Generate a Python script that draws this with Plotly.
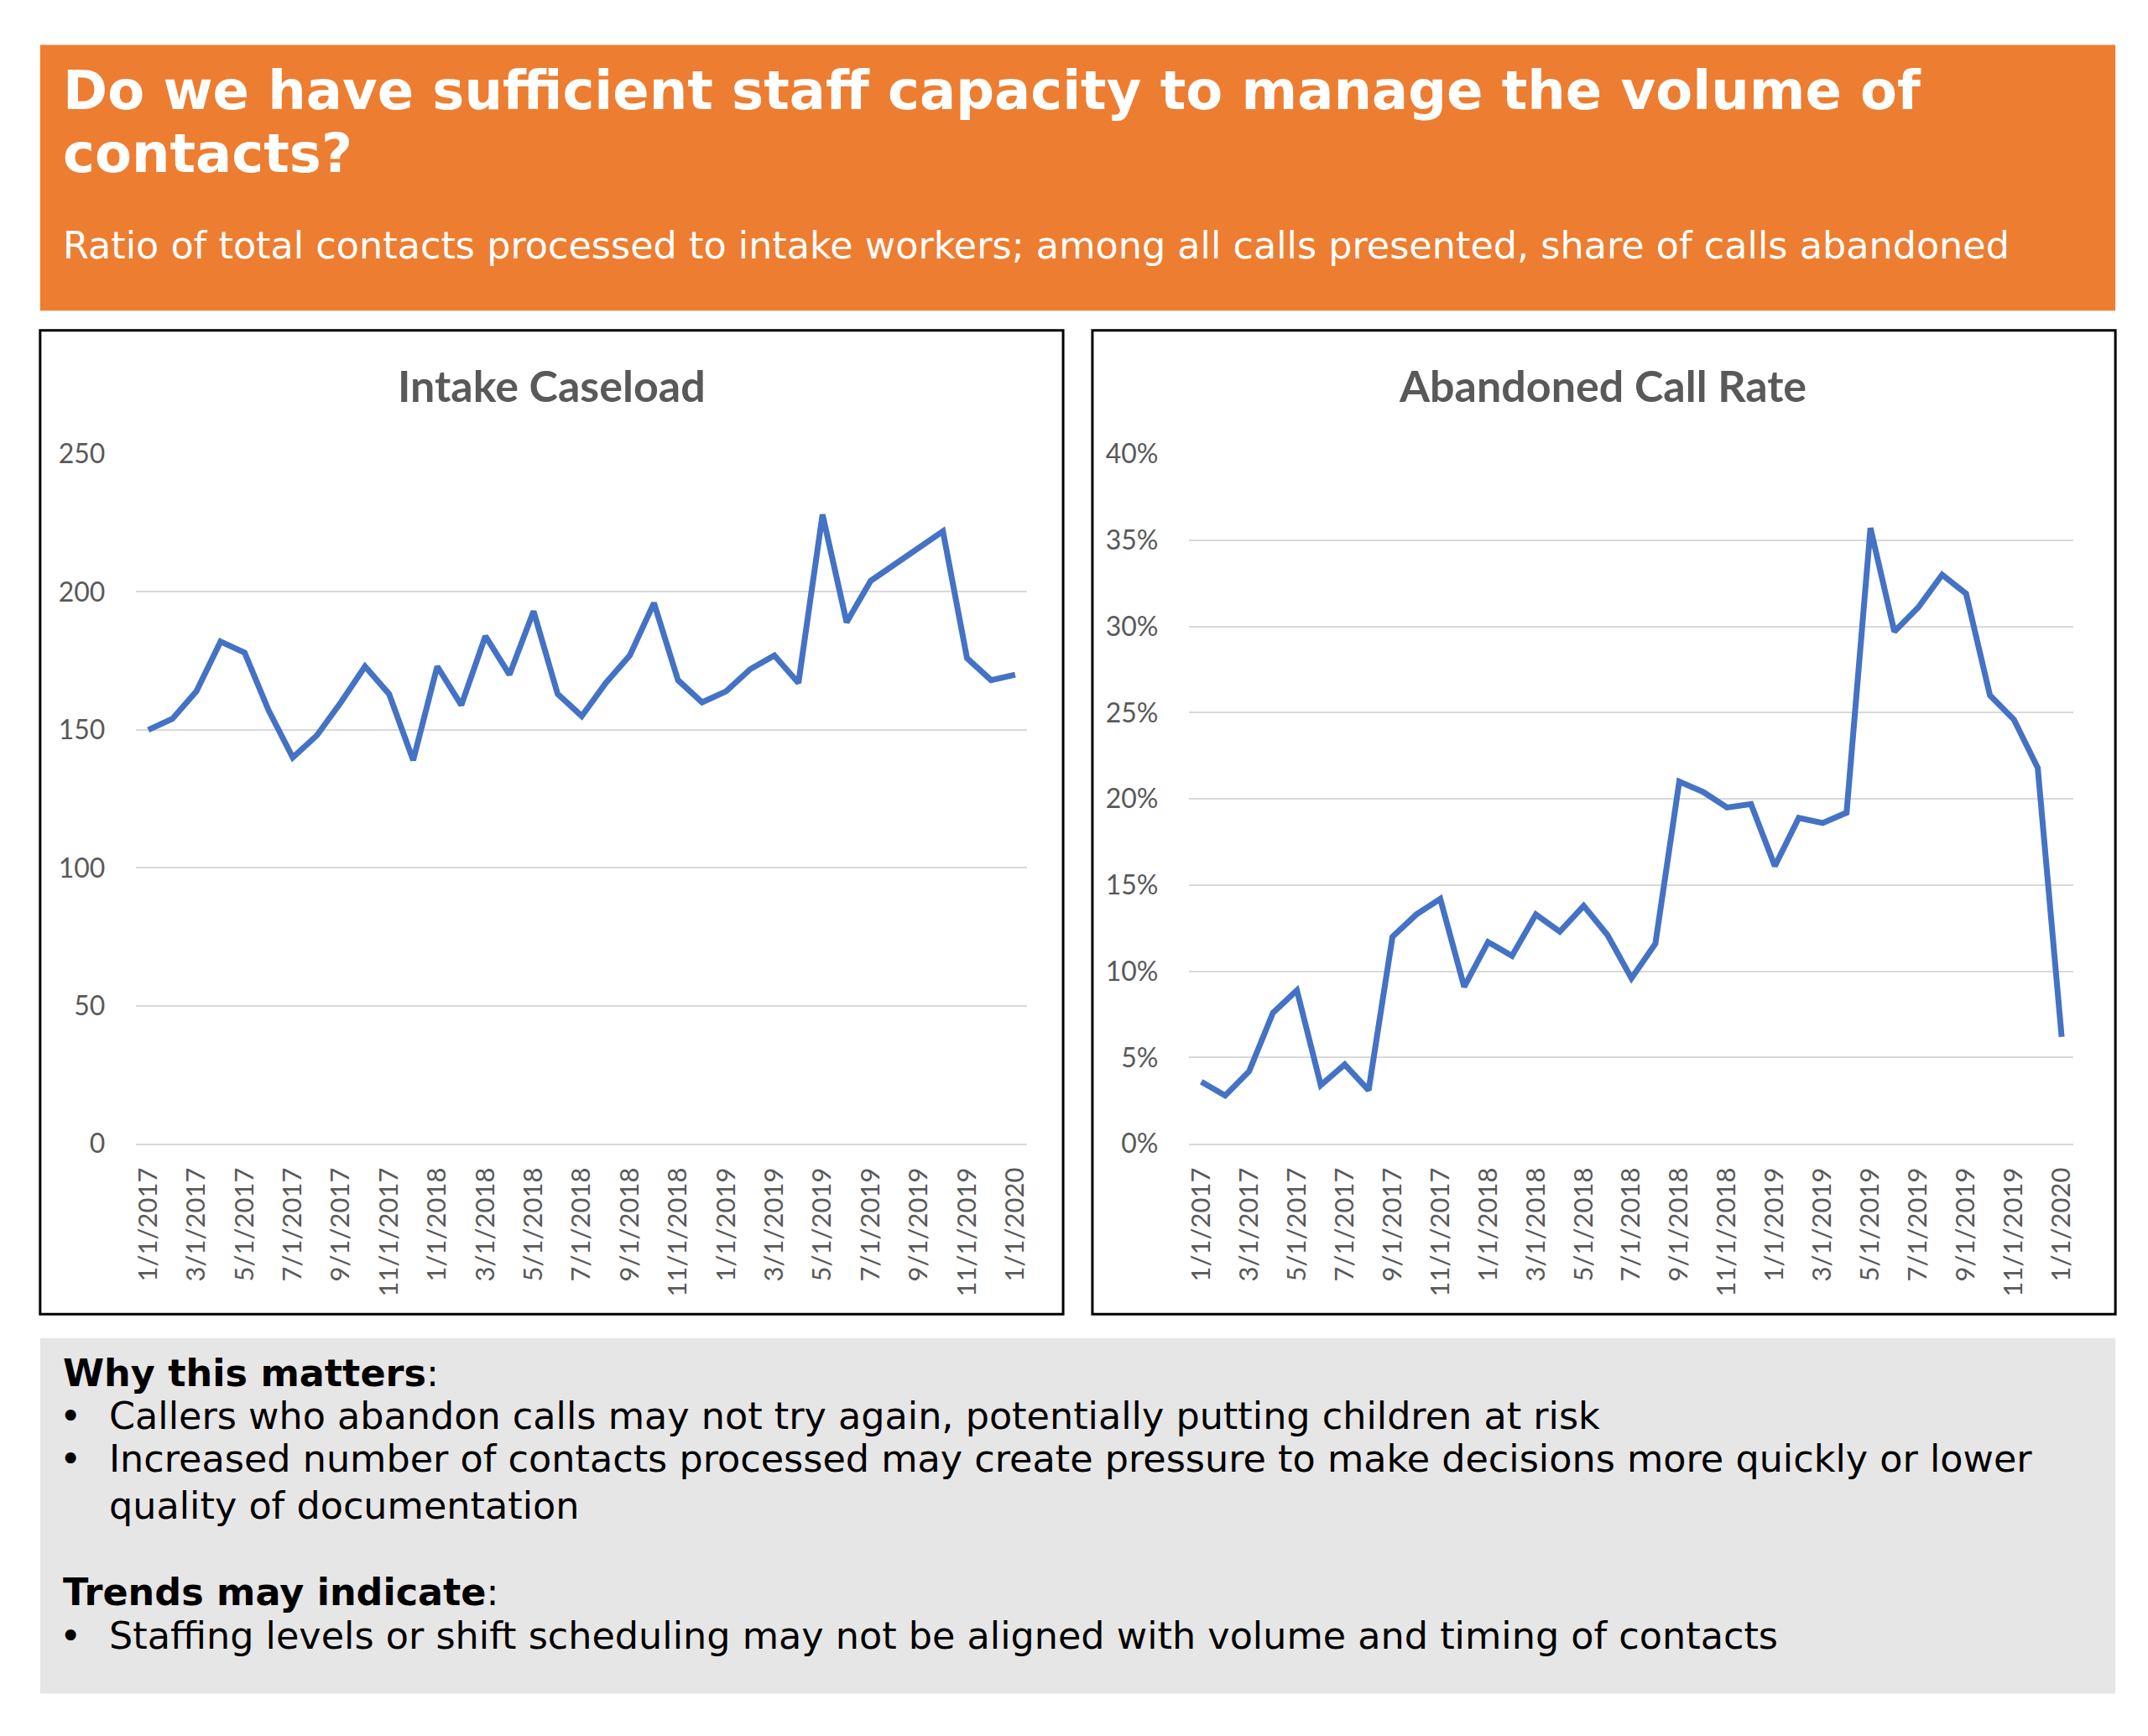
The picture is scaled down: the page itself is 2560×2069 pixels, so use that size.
import plotly.graph_objects as go

# monthly data, 1/1/2017 .. 1/1/2020
months = [f"{m}/1/{y}" for y in (2017, 2018, 2019) for m in range(1, 13)] + ["1/1/2020"]

caseload = [150, 154, 164, 182, 178, 157, 140, 148, 160, 173, 163, 139,
            173, 159, 184, 170, 193, 163, 155, 167, 177, 196, 168, 160,
            164, 172, 177, 167, 228, 189, 204, 210, 216, 222, 176, 168,
            170]

abandoned = [0.036, 0.028, 0.042, 0.076, 0.089, 0.034, 0.046, 0.031, 0.120, 0.133, 0.142, 0.091,
             0.117, 0.109, 0.133, 0.123, 0.138, 0.121, 0.096, 0.116, 0.210, 0.204, 0.195, 0.197,
             0.161, 0.189, 0.186, 0.192, 0.357, 0.297, 0.311, 0.330, 0.319, 0.260, 0.246, 0.218,
             0.062]

tick_labels = months[::2]

title_line1 = "Do we have sufficient staff capacity to manage the volume of"
title_line2 = "contacts?"
subtitle = ("Ratio of total contacts processed to intake workers; among all calls "
            "presented, share of calls abandoned")

W, H = 2560, 2069
BLUE = "#4472C4"
GREY_TXT = "#595959"
GRID = "#D9D9D9"
ORANGE = "#ED7D31"
PANEL = "#E7E6E6"
BODY_FONT = "DejaVu Sans"
CHART_FONT = "Lato"


def px(x):
    return x / W


def py(y):
    return 1 - y / H


fig = go.Figure()

fig.add_trace(go.Scatter(x=months, y=caseload, mode="lines",
                         line=dict(color=BLUE, width=7),
                         xaxis="x", yaxis="y", showlegend=False))
fig.add_trace(go.Scatter(x=months, y=abandoned, mode="lines",
                         line=dict(color=BLUE, width=7),
                         xaxis="x2", yaxis="y2", showlegend=False))

xaxis_style = dict(type="category", range=[-0.5, len(months) - 0.5],
                   tickmode="array", tickvals=tick_labels, ticktext=tick_labels,
                   tickangle=-90, showgrid=False, showline=True,
                   linecolor=GRID, linewidth=2, ticks="",
                   ticklabelstandoff=14,
                   tickfont=dict(family=CHART_FONT, size=31, color=GREY_TXT))
yaxis_style = dict(showgrid=True, gridcolor=GRID, gridwidth=2, zeroline=False,
                   showline=False, ticks="", ticklabelstandoff=36,
                   tickfont=dict(family=CHART_FONT, size=32, color=GREY_TXT))

fig.update_layout(
    width=W, height=H,
    margin=dict(l=0, r=0, t=0, b=0),
    paper_bgcolor="white", plot_bgcolor="rgba(0,0,0,0)",
    xaxis=dict(domain=[px(156), px(1222)], anchor="y", **xaxis_style),
    yaxis=dict(domain=[py(1368), py(530)], anchor="x", range=[0, 250], dtick=50,
               **yaxis_style),
    xaxis2=dict(domain=[px(1416), px(2474)], anchor="y2", **xaxis_style),
    yaxis2=dict(domain=[py(1368), py(530)], anchor="x2", range=[0, 0.40], dtick=0.05,
                tickformat=".0%", **yaxis_style),
)

# background blocks
fig.add_shape(type="rect", xref="paper", yref="paper", layer="below",
              x0=px(41), x1=px(2524), y0=py(356), y1=py(33),
              fillcolor=ORANGE, line_width=0)
for x0, x1 in [(41, 1265), (1300, 2524)]:
    fig.add_shape(type="rect", xref="paper", yref="paper", layer="below",
                  x0=px(x0), x1=px(x1), y0=py(1575), y1=py(380),
                  fillcolor="white", line=dict(color="black", width=3))
fig.add_shape(type="rect", xref="paper", yref="paper", layer="below",
              x0=px(41), x1=px(2524), y0=py(2036), y1=py(1604),
              fillcolor=PANEL, line_width=0)


def note(text, x, y, size, color="black", family=BODY_FONT, xanchor="left"):
    fig.add_annotation(text=text, x=px(x), y=py(y), xref="paper", yref="paper",
                       xanchor=xanchor, yanchor="middle", showarrow=False,
                       font=dict(family=family, size=size, color=color))


# header
note("<b>" + title_line1 + "</b>", 66, 89, 64, "white")
note("<b>" + title_line2 + "</b>", 66, 165, 64, "white")
note(subtitle, 66, 277, 44.5, "white")

# chart titles
note("<b>Intake Caseload</b>", 653, 446, 52, GREY_TXT, CHART_FONT, "center")
note("<b>Abandoned Call Rate</b>", 1910, 446, 52, GREY_TXT, CHART_FONT, "center")

# bottom panel
note("<b>Why this matters</b>:", 66, 1647, 44.5)
note("•", 62, 1699, 44.5)
note("Callers who abandon calls may not try again, potentially putting children at risk",
     121, 1699, 44.5)
note("•", 62, 1750, 44.5)
note("Increased number of contacts processed may create pressure to make decisions more quickly or lower",
     121, 1750, 44.5)
note("quality of documentation", 121, 1808, 44.5)
note("<b>Trends may indicate</b>:", 66, 1913, 44.5)
note("•", 62, 1966, 44.5)
note("Staffing levels or shift scheduling may not be aligned with volume and timing of contacts",
     121, 1966, 44.5)

# drop the default 8px page margin so the figure sits at the window origin
fig.write_html("out.html", config={"displayModeBar": False},
               post_script="document.body.style.margin='0';")
